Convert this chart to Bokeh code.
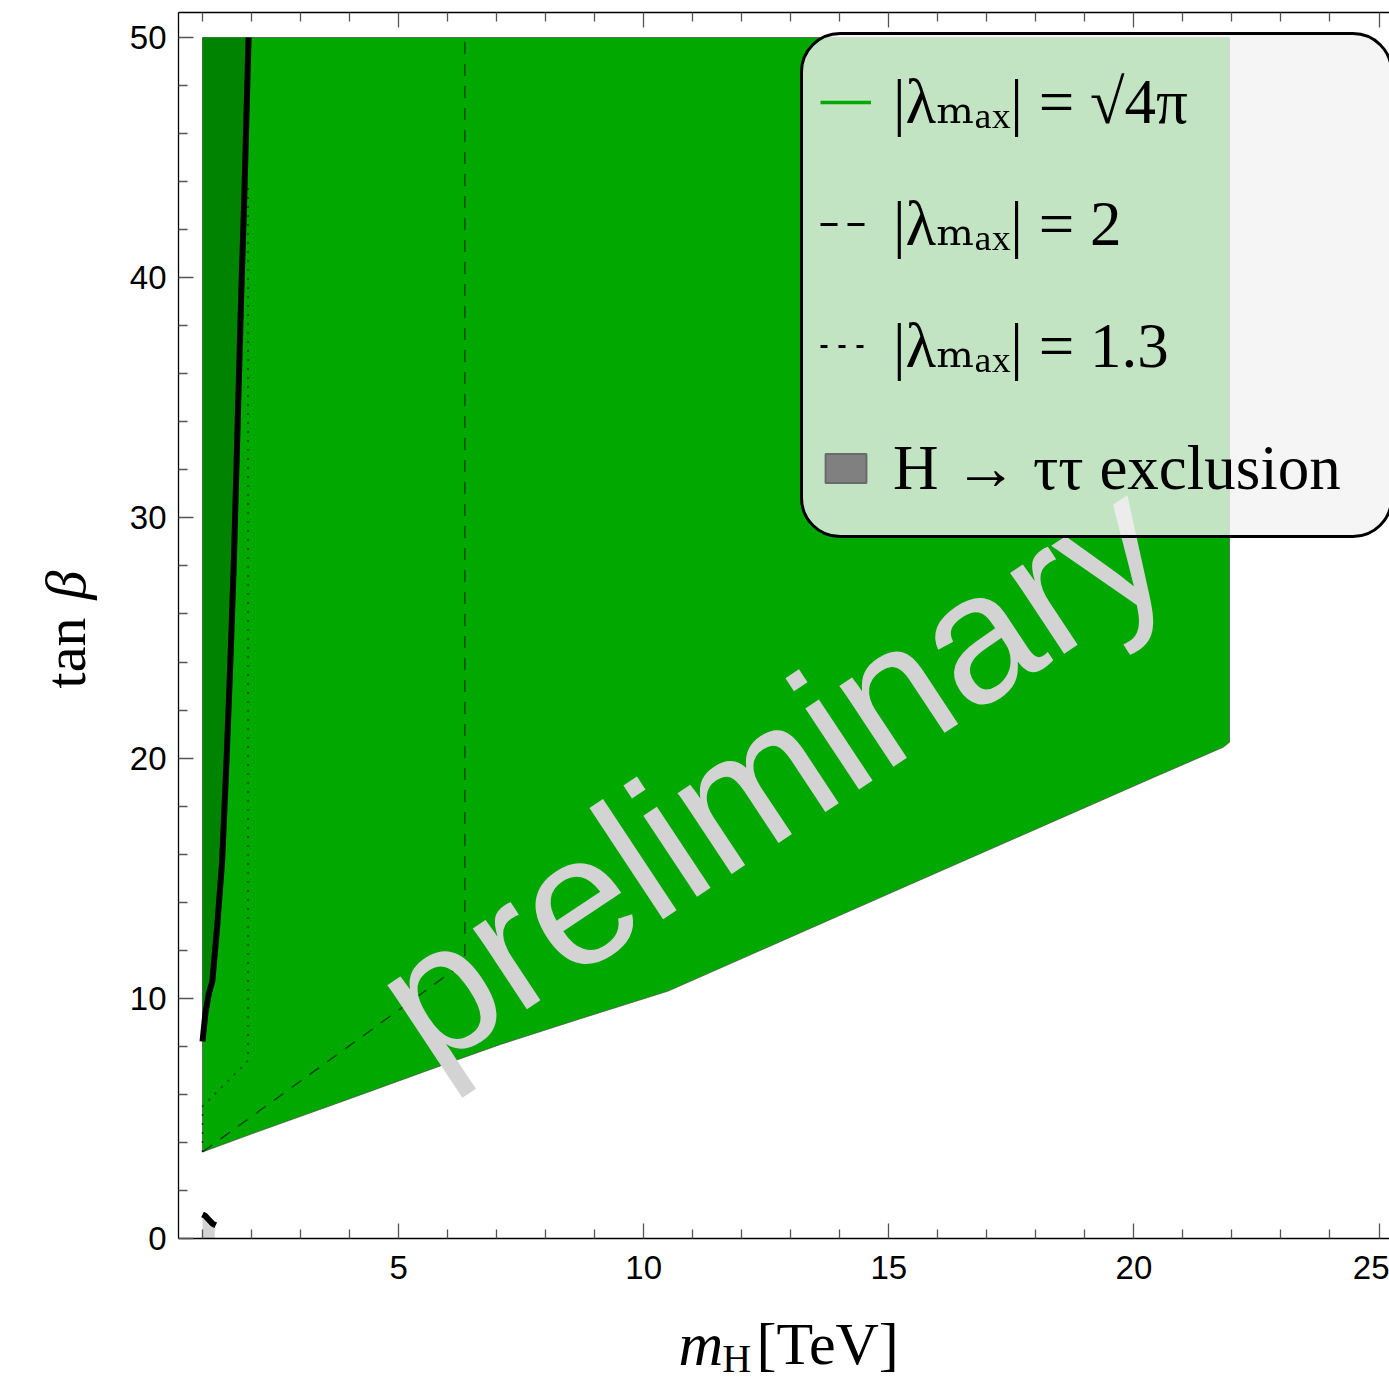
from bokeh.plotting import figure
from bokeh.models import (ColumnDataSource, Legend, LegendItem, Label, LinearAxis,
                          FixedTicker, Range1d)
from bokeh.embed import file_html
from bokeh.resources import INLINE

# ---------------- data ----------------
TANB_MAX = 50.0

# |lambda_max| = sqrt(4 pi) allowed region (green)
REGION_X = [1.0, 1.0, 21.95, 21.95, 21.82, 20.34, 15.0, 10.5, 8.71, 7.08, 6.06, 4.02, 2.05, 1.0]
REGION_Y = [3.6, 50.0, 50.0, 20.66, 20.45, 19.14, 14.35, 10.3, 9.15, 8.08, 7.34, 5.83, 4.39, 3.6]

# thick black boundary curve (right edge of the dark band)
CURVE_X = [1.0, 1.06, 1.13, 1.20, 1.30, 1.40, 1.49, 1.57, 1.64, 1.73, 1.79, 1.85, 1.90, 1.94]
CURVE_Y = [8.2, 9.4, 10.2, 10.7, 13.0, 15.7, 19.9, 24.1, 28.2, 34.9, 39.3, 43.2, 47.0, 50.0]

# |lambda_max| = 2 contour (dashed)
DASH_X = [1.0, 6.35, 6.35]
DASH_Y = [3.6, 11.5, 50.0]

# |lambda_max| = 1.3 contour (dotted)
DOT_X = [1.0, 1.0, 1.93, 1.93]
DOT_Y = [3.6, 5.5, 7.4, 44.0]

# H -> tau tau exclusion (tiny, near the origin)
EXCL_X = [1.0, 1.0, 1.1, 1.25, 1.25]
EXCL_Y = [0.0, 0.95, 0.8, 0.55, 0.0]
EXCL_EDGE_X = [1.0, 1.05, 1.12, 1.2, 1.27]
EXCL_EDGE_Y = [1.0, 0.95, 0.8, 0.62, 0.55]

LEGEND_LABELS = ["|λₘₐₓ| = √4π", "|λₘₐₓ| = 2", "|λₘₐₓ| = 1.3", "H → ττ exclusion"]

X_TICKS = [5, 10, 15, 20, 25]
X_MINOR = [1, 2, 3, 4, 6, 7, 8, 9, 11, 12, 13, 14, 16, 17, 18, 19, 21, 22, 23, 24]
Y_TICKS = [0, 10, 20, 30, 40, 50]
Y_MINOR = [2, 4, 6, 8, 12, 14, 16, 18, 22, 24, 26, 28, 32, 34, 36, 38, 42, 44, 46, 48]

# plot-area limits (frame box of the original chart)
X_MIN, X_MAX = 0.51, 25.25
Y_MIN, Y_MAX = 0.0, 51.04

GREEN = "#00a800"
DARK_GREEN = "#008400"

# ---------------- figure (frame spans the whole canvas) ----------------
p = figure(width=1389, height=1382,
           x_range=Range1d(-3.121, 25.214), y_range=Range1d(-5.995, 51.54),
           x_axis_type=None, y_axis_type=None,
           output_backend="svg", toolbar_location=None,
           min_border=0, min_border_left=0, min_border_right=0,
           min_border_top=0, min_border_bottom=0)
p.grid.visible = False
p.outline_line_color = None
p.background_fill_color = "white"
p.border_fill_color = "white"


def style_axis(ax, labels=True):
    ax.major_tick_in = 15
    ax.major_tick_out = 0
    ax.minor_tick_in = 9
    ax.minor_tick_out = 0
    ax.major_tick_line_color = "#555555"
    ax.minor_tick_line_color = "#555555"
    ax.major_tick_line_width = 1.3
    ax.minor_tick_line_width = 1.3
    ax.axis_line_color = "black"
    ax.axis_line_width = 1.3
    ax.major_label_text_font = "Liberation Sans"
    ax.major_label_text_font_size = "33px"
    if labels:
        ax.major_label_text_color = "black"
    else:
        ax.major_label_text_color = None


xaxis = LinearAxis(ticker=FixedTicker(ticks=X_TICKS, minor_ticks=X_MINOR),
                   fixed_location=Y_MIN, bounds=(X_MIN, X_MAX), major_label_standoff=18)
style_axis(xaxis)
p.add_layout(xaxis, "below")

yaxis = LinearAxis(ticker=FixedTicker(ticks=Y_TICKS, minor_ticks=Y_MINOR),
                   fixed_location=X_MIN, bounds=(Y_MIN, Y_MAX), major_label_standoff=12)
style_axis(yaxis)
p.add_layout(yaxis, "left")

topaxis = LinearAxis(ticker=FixedTicker(ticks=X_TICKS, minor_ticks=X_MINOR),
                     fixed_location=Y_MAX, bounds=(X_MIN, X_MAX), major_label_standoff=0)
style_axis(topaxis, labels=False)
p.add_layout(topaxis, "above")

# ---------------- data marks ----------------
region_src = ColumnDataSource(dict(x=REGION_X, y=REGION_Y))
p.patch("x", "y", source=region_src, fill_color=GREEN, line_color="#4a4a4a",
        line_width=1, line_alpha=0.7)

band_src = ColumnDataSource(dict(x=CURVE_X + [CURVE_X[0]], y=CURVE_Y + [TANB_MAX]))
p.patch("x", "y", source=band_src, fill_color=DARK_GREEN, line_color=None)

dash_src = ColumnDataSource(dict(x=DASH_X, y=DASH_Y))
p.line("x", "y", source=dash_src, line_color="black", line_alpha=0.65,
       line_width=1.3, line_dash="12 10")

dot_src = ColumnDataSource(dict(x=DOT_X, y=DOT_Y))
p.line("x", "y", source=dot_src, line_color="black", line_alpha=0.6,
       line_width=1.6, line_dash="2 7")

curve_src = ColumnDataSource(dict(x=CURVE_X, y=CURVE_Y))
p.line("x", "y", source=curve_src, line_color="black", line_width=6)

excl_src = ColumnDataSource(dict(x=EXCL_X, y=EXCL_Y))
p.patch("x", "y", source=excl_src, fill_color="#808080", fill_alpha=0.35, line_color=None)
excl_edge_src = ColumnDataSource(dict(x=EXCL_EDGE_X, y=EXCL_EDGE_Y))
p.line("x", "y", source=excl_edge_src, line_color="black", line_width=6)

# legend proxies: same data, hidden, only their legend look is used
r_green = p.line("x", "y", source=region_src, line_color=GREEN, line_width=3.5, visible=False)
r_dash = p.line("x", "y", source=dash_src, line_color="black", line_width=3,
                line_dash="17 10", visible=False)
r_dot = p.line("x", "y", source=dot_src, line_color="black", line_width=3,
               line_dash="7 11", visible=False)
r_excl = p.patch("x", "y", source=excl_src, fill_color="#808080", line_color="#6a6a6a",
                 line_width=2, visible=False)

legend = Legend(items=[LegendItem(label=LEGEND_LABELS[0], renderers=[r_green]),
                       LegendItem(label=LEGEND_LABELS[1], renderers=[r_dash]),
                       LegendItem(label=LEGEND_LABELS[2], renderers=[r_dot]),
                       LegendItem(label=LEGEND_LABELS[3], renderers=[r_excl])],
                location=(800, 844), margin=0, padding=17, spacing=22,
                glyph_width=51, glyph_height=36, label_height=100, label_width=480,
                label_standoff=22,
                label_text_font="Liberation Serif, DejaVu Serif", label_text_font_size="63px",
                label_text_color="black", label_text_baseline="middle",
                background_fill_color="#f2f2f2", background_fill_alpha=0.8,
                border_line_color="black", border_line_width=3, border_line_alpha=1.0)
try:
    legend.border_radius = 40
except Exception:
    pass
p.add_layout(legend, "center")

# watermark
p.add_layout(Label(x=4.94, y=9.12, text="preliminary", angle=33.5, angle_units="deg",
                   text_font="Liberation Sans", text_font_size="184px",
                   text_color="#d3d3d3", text_align="left", text_baseline="alphabetic"))

# axis titles built from pieces (roman / italic / subscript)
serif = "Liberation Serif"
p.add_layout(Label(x=10.71, y=-4.41, text="m", text_font=serif, text_font_style="italic",
                   text_font_size="62px", text_color="black",
                   text_align="left", text_baseline="alphabetic"))
p.add_layout(Label(x=11.6, y=-4.99, text="H", text_font=serif, text_color="black",
                   text_font_size="40px", text_align="left", text_baseline="alphabetic"))
p.add_layout(Label(x=12.3, y=-4.41, text="[TeV]", text_font=serif, text_color="black",
                   text_font_size="60px", text_align="left", text_baseline="alphabetic"))
p.add_layout(Label(x=-1.80, y=22.9, text="tan", angle=90, angle_units="deg",
                   text_font=serif, text_font_size="58px", text_color="black",
                   text_align="left", text_baseline="alphabetic"))
p.add_layout(Label(x=-1.80, y=26.6, text="β", angle=90, angle_units="deg",
                   text_font=serif, text_font_style="italic", text_font_size="58px",
                   text_color="black", text_align="left", text_baseline="alphabetic"))

open("out.html", "w").write(file_html(p, INLINE))
